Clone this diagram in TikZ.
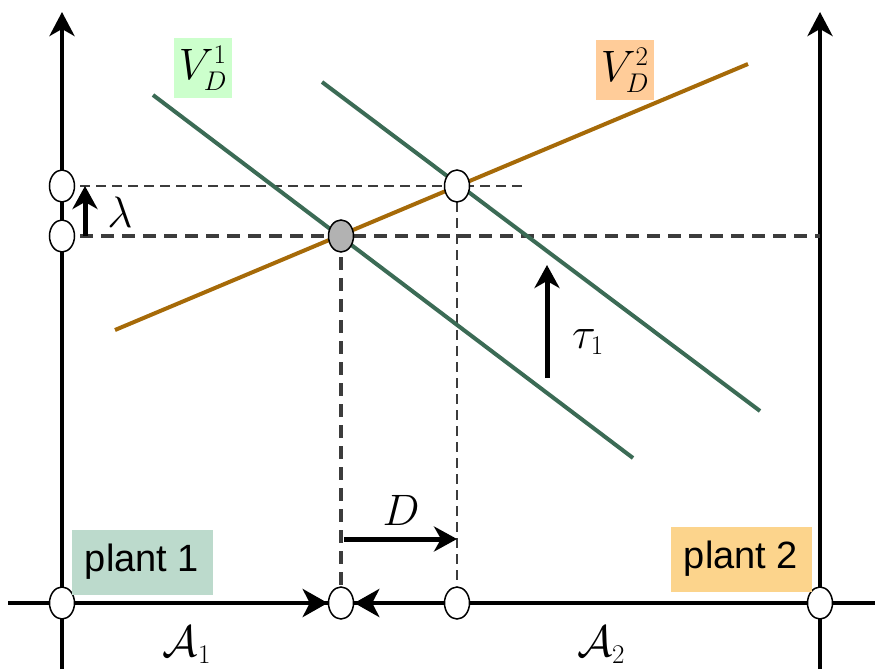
\RequirePackage{fix-cm}
\documentclass[tikz,border=0pt]{standalone}
\usepackage{amsmath}
\usepackage{fontspec}
\setmainfont{Liberation Sans}
\DeclareMathSizes{44}{44}{27}{18}
\usepackage{tikz}
\usetikzlibrary{arrows.meta,positioning,shapes.geometric}

\definecolor{curvegreen}{HTML}{3B6B55}
\definecolor{curvebrown}{HTML}{A66A08}
\definecolor{boxone}{HTML}{CCFFCC}
\definecolor{boxtwo}{HTML}{FFCC99}
\definecolor{plantone}{HTML}{BCDACC}
\definecolor{planttwo}{HTML}{FCD48C}
\definecolor{dashgray}{HTML}{3C3C3C}

\begin{document}
\begin{tikzpicture}[x=1pt, y=-1pt,
    axis/.style={line width=4.5pt},
    bigtip/.style={-{Stealth[length=24pt,width=25pt,inset=7pt]}},
    shiftarrow/.style={line width=5pt, -{Stealth[length=23pt,width=25pt,inset=7pt]}},
    pointer/.style={line width=4.5pt, -{Stealth[length=25pt,width=28pt,inset=7pt]}},
    knot/.style={ellipse, draw, line width=1.5pt, fill=white, minimum width=25pt, minimum height=32pt, inner sep=0pt},
    thindash/.style={dashgray, line width=2pt, dash pattern=on 10pt off 6pt},
    thickdash/.style={dashgray, line width=3.2pt, dash pattern=on 13pt off 8pt},
    demand/.style={curvegreen, line width=4pt},
    supply/.style={curvebrown, line width=4pt},
    mlabel/.style={font=\fontsize{44}{48}\selectfont, inner sep=0pt},
    vbox/.style={mlabel, minimum width=58pt, minimum height=59pt},
    plantbox/.style={font=\fontsize{38}{42}\selectfont, minimum width=141pt, minimum height=65pt, inner sep=0pt}
  ]
  \useasboundingbox (0,0) rectangle (875,669);

  % axes
  \draw[axis, bigtip] (62,669) -- (62,12);
  \draw[axis, bigtip] (820,669) -- (820,12);
  \draw[axis] (8,603) -- (875,603);

  % points on the axes
  \node[knot] (yhi) at (62,186) {};
  \node[knot] (ylo) at (62,236) {};
  \node[knot] (o1) at (62,603) {};
  \node[knot] (mid) at (341,603) {};
  \node[knot] (dpt) at (457,603) {};
  \node[knot] (o2) at (820,603) {};

  % equilibria
  \coordinate (eq) at (341,236);
  \coordinate (eqnew) at (457,186);

  % guide lines
  \draw[thindash, shorten <=5pt] (yhi.east) -- (525,186);
  \draw[thickdash, shorten <=5pt] (ylo.east) -- (820,236);
  \draw[thickdash] (eq) -- (mid.north);
  \draw[thindash, line width=2.4pt] (eqnew) -- (dpt.north);

  % curves
  \draw[demand] (153,95) -- (633,458);
  \draw[demand] (322,82) -- (760,411);
  \draw[supply] (115,330) -- (748,64);

  \node[knot, fill=gray!60] (eqpt) at (eq) {};
  \node[knot] (eqnewpt) at (eqnew) {};

  % flows along the axis
  \draw[pointer] (o1.east) -- (mid.west);
  \draw[pointer] (dpt.west) -- (mid.east);

  % shifts
  \draw[shiftarrow] (85,236) -- (85,186);
  \draw[shiftarrow] (547,378) -- (547,265);
  \draw[shiftarrow] (344,539) -- (457,539);

  % labels
  \node[mlabel] (lam) at (120,212) {$\lambda$};
  \node[mlabel] (tau) at (588,342) {$\tau_1$};
  \node[mlabel] (dlab) at (401,510) {$D$};
  \node[mlabel] (a1) at (187,645) {$\mathcal{A}_1$};
  \node[mlabel] (a2) at (601,645) {$\mathcal{A}_2$};
  \node[vbox, fill=boxone] (v1) at (203,68) {$V_D^1$};
  \node[vbox, fill=boxtwo] (v2) at (625,70) {$V_D^2$};
  \node[plantbox, fill=plantone] (p1) at (142,562) {plant 1};
  \node[plantbox, fill=planttwo] (p2) at (741,559) {plant 2};
\end{tikzpicture}
\end{document}
